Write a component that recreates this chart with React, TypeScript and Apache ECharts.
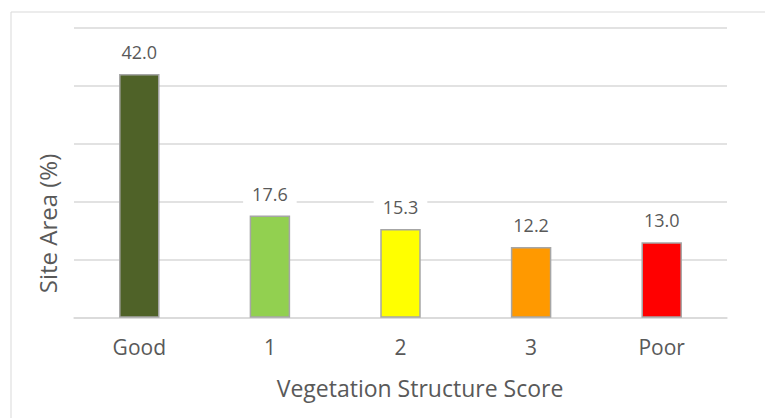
import React, { useEffect, useRef } from "react";
import * as echarts from "echarts";

const categories = ["Good", "1", "2", "3", "Poor"];
const values = [42.0, 17.6, 15.3, 12.2, 13.0];
const barColors = ["#4f6228", "#92d050", "#ffff00", "#ff9900", "#ff0000"];
const xTitle = "Vegetation Structure Score";
const yTitle = "Site Area (%)";

const FONT = "Open Sans";
const TEXT = "#595959";

export default function App() {
  const ref = useRef<HTMLDivElement>(null);
  useEffect(() => {
    document.body.style.margin = "0";
    const chart = echarts.init(ref.current!, null, { renderer: "svg" });
    chart.setOption({
      animation: false,
      backgroundColor: "#ffffff",
      textStyle: { fontFamily: FONT },
      grid: { left: 74, right: 38, top: 27.7, bottom: 100.3, containLabel: false },
      graphic: [
        {
          type: "rect",
          shape: { x: 11, y: 12, width: 800, height: 500 },
          style: { fill: "none", stroke: "#d9d9d9", lineWidth: 1 },
          silent: true,
        },
        {
          type: "text",
          x: 420,
          y: 388,
          style: {
            text: xTitle,
            fill: TEXT,
            font: `23px "${FONT}"`,
            align: "center",
            verticalAlign: "middle",
          },
          silent: true,
        },
        {
          type: "text",
          x: 47.5,
          y: 223.5,
          rotation: Math.PI / 2,
          style: {
            text: yTitle,
            fill: TEXT,
            font: `24px "${FONT}"`,
            align: "center",
            verticalAlign: "middle",
          },
          silent: true,
        },
      ],
      xAxis: {
        type: "category",
        data: categories,
        axisLine: { show: true, lineStyle: { color: "#d9d9d9", width: 1.5 } },
        axisTick: { show: false },
        axisLabel: { color: TEXT, fontSize: 21, fontFamily: FONT, margin: 19 },
      },
      yAxis: {
        type: "value",
        min: 0,
        max: 50,
        interval: 10,
        axisLabel: { show: false },
        axisLine: { show: false },
        axisTick: { show: false },
        splitLine: { lineStyle: { color: "#d9d9d9", width: 1.5 } },
      },
      series: [
        {
          type: "bar",
          barWidth: "31%",
          data: values.map((v, i) => ({
            value: v,
            itemStyle: { color: barColors[i], borderColor: "#a6a6a6", borderWidth: 1.5 },
          })),
          label: {
            show: true,
            position: "top",
            distance: 11,
            formatter: (p: any) => Number(p.value).toFixed(1),
            color: TEXT,
            fontSize: 18,
            fontFamily: FONT,
            backgroundColor: "#ffffff",
            padding: [2, 9],
          },
        },
      ],
    });
    return () => chart.dispose();
  }, []);
  return <div ref={ref} style={{ width: 765, height: 418 }} />;
}
